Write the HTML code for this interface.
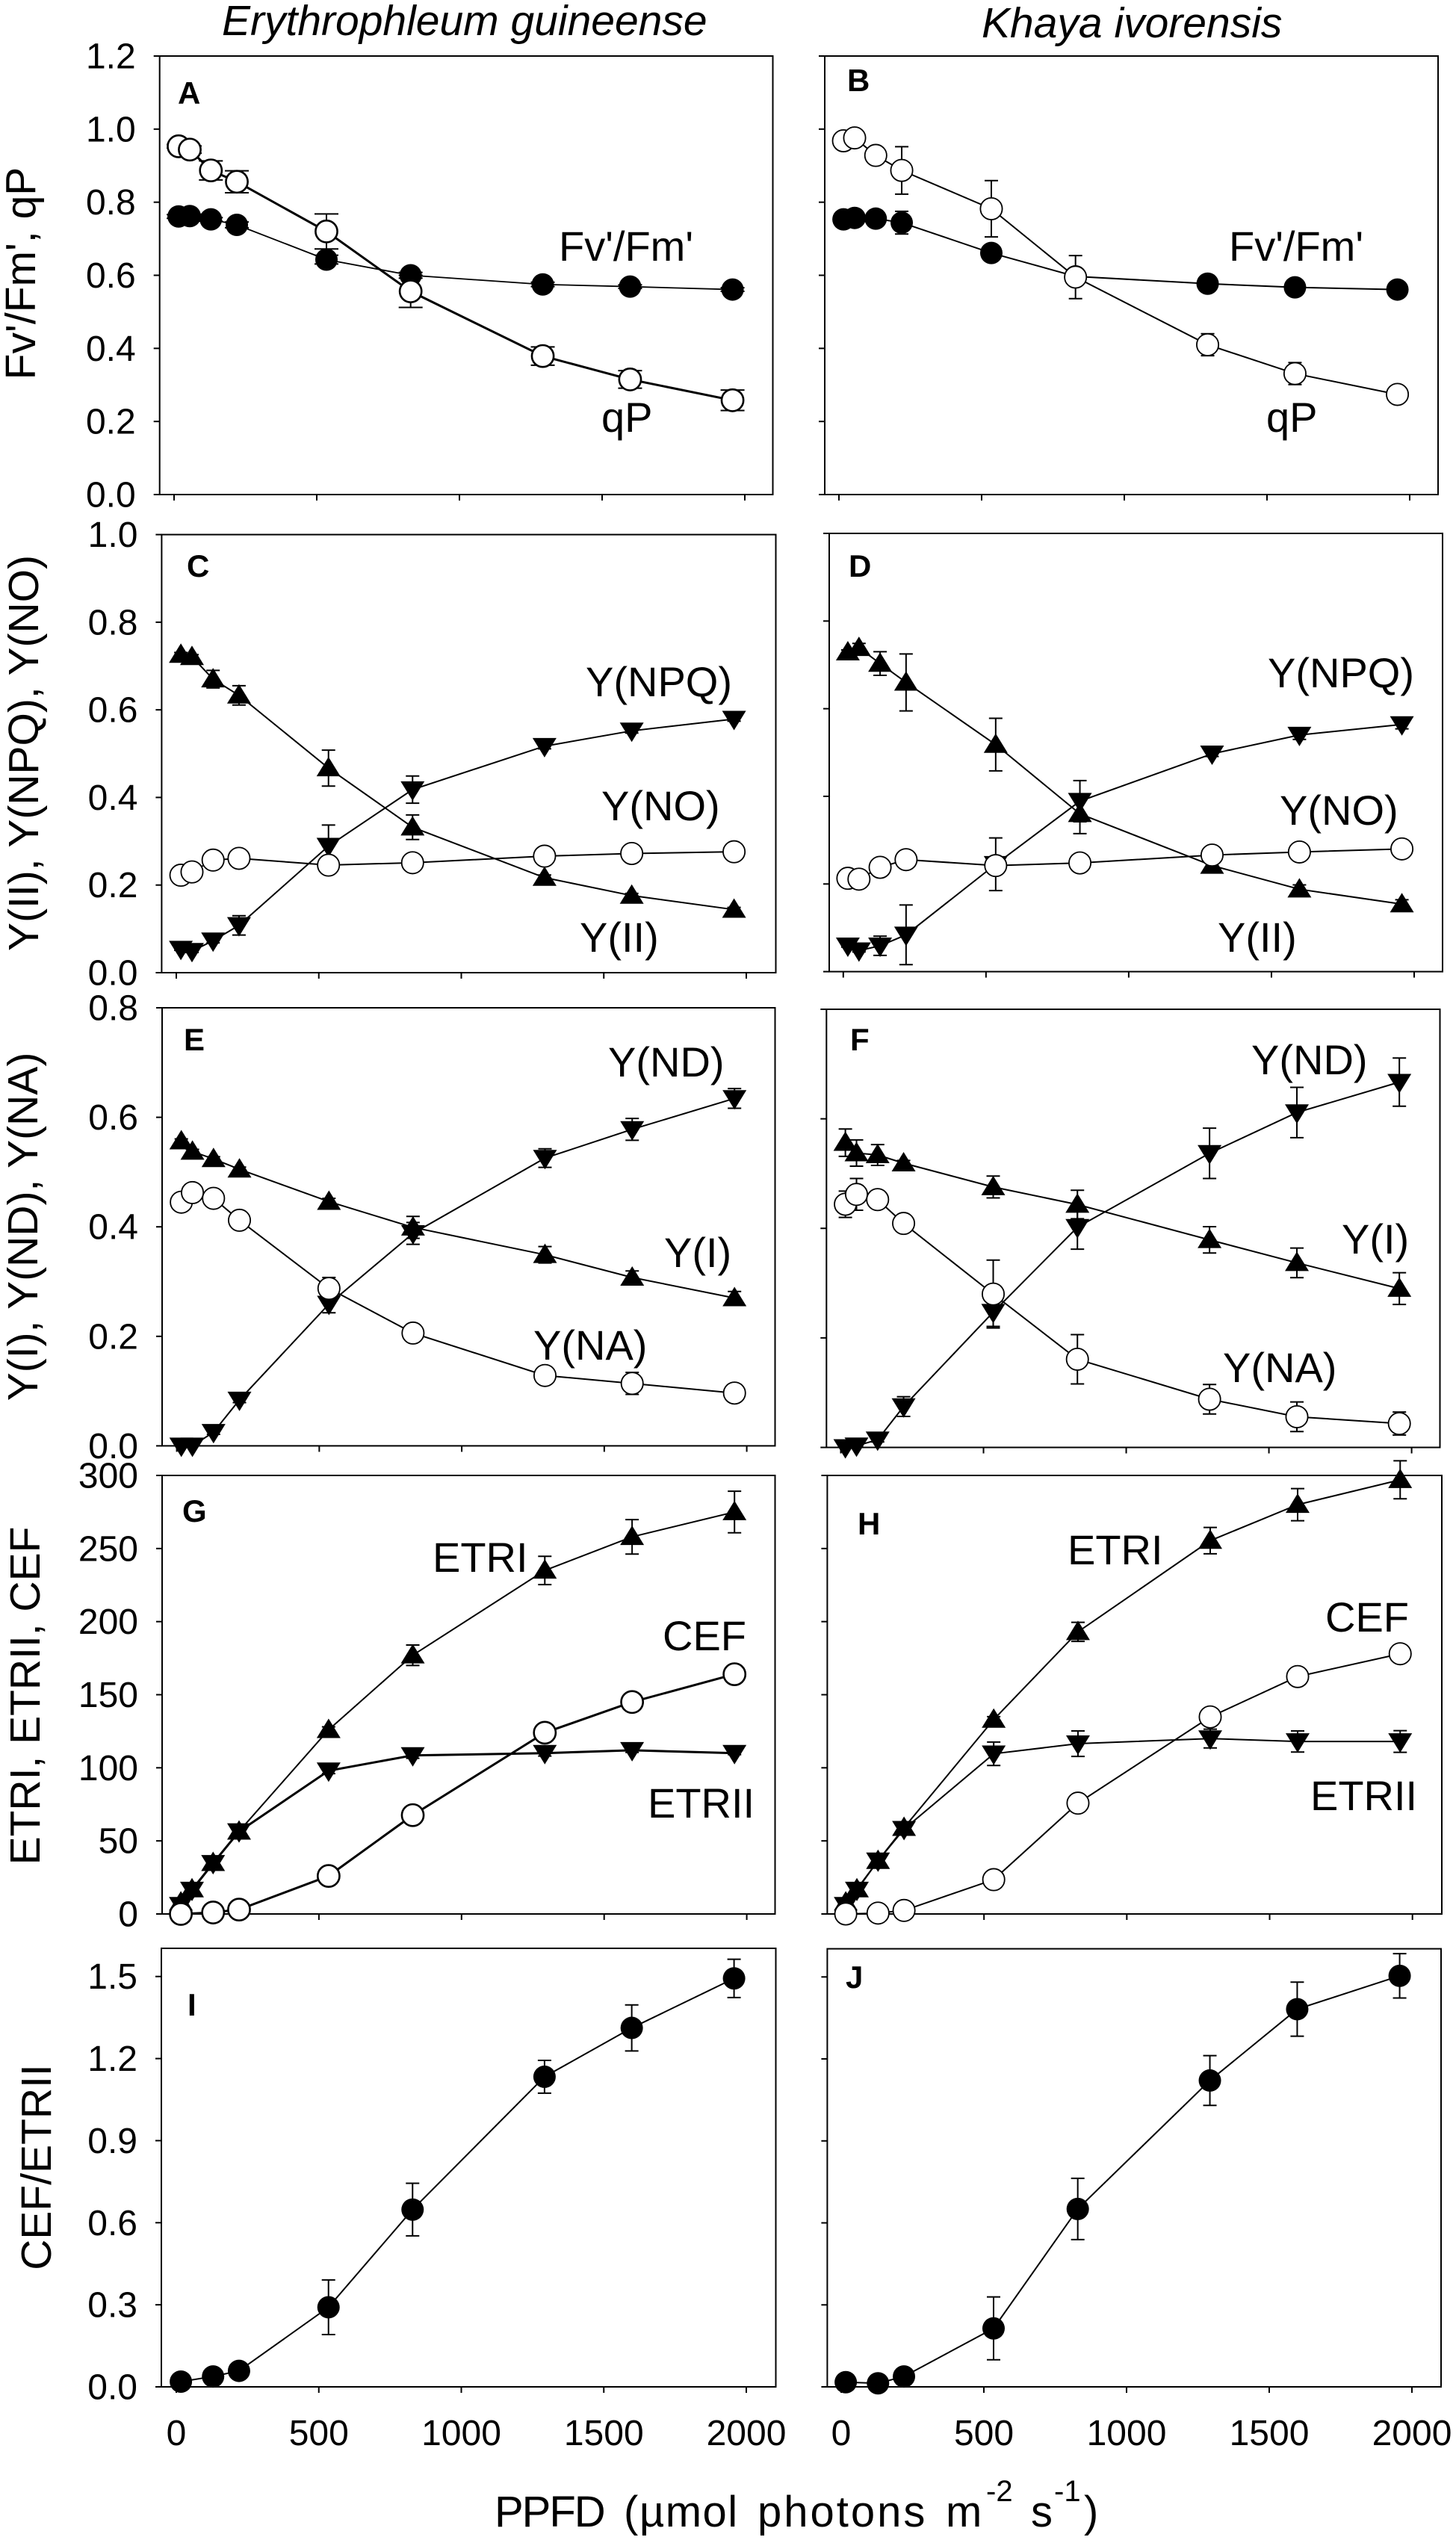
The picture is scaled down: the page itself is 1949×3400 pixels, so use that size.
<!DOCTYPE html>
<html lang="en">
<head>
<meta charset="utf-8">
<title>Chlorophyll fluorescence light-response curves</title>
<style>
html,body{margin:0;padding:0;background:#fff;}
svg{display:block;}
text{font-family:"Liberation Sans",Arial,sans-serif;fill:#000;}
.lab{font-size:56px;}
.let{font-size:42px;font-weight:bold;}
.ttl{font-size:57px;font-style:italic;}
.yt{font-size:57px;}
</style>
</head>
<body>
<svg id="chart" xmlns="http://www.w3.org/2000/svg" width="1949" height="3400" viewBox="0 0 1949 3400">
<rect x="0" y="0" width="1949" height="3400" fill="#fff"/>
<text class="ttl" x="297" y="47">Erythrophleum guineense</text>
<text class="ttl" x="1314" y="50">Khaya ivorensis</text>

<text class="yt" transform="translate(47,366) rotate(-90)" text-anchor="middle" xml:space="preserve">Fv'/Fm', qP</text>
<text class="yt" transform="translate(51,1008) rotate(-90)" text-anchor="middle">Y(II), Y(NPQ), Y(NO)</text>
<text class="yt" transform="translate(50,1642) rotate(-90)" text-anchor="middle">Y(I), Y(ND), Y(NA)</text>
<text class="yt" transform="translate(53,2270) rotate(-90)" text-anchor="middle">ETRI, ETRII, CEF</text>
<text class="yt" transform="translate(68,2901) rotate(-90)" text-anchor="middle">CEF/ETRII</text>

<text font-size="58" y="3382"><tspan x="662" letter-spacing="-2">PPFD</tspan><tspan x="835" letter-spacing="1.5">(µmol</tspan><tspan x="1014" letter-spacing="3">photons</tspan><tspan x="1266">m</tspan><tspan x="1320" y="3348" font-size="40">-2</tspan><tspan x="1380" y="3382">s</tspan><tspan x="1411" y="3348" font-size="40">-1</tspan><tspan x="1451" y="3382">)</tspan></text>

<g id="marks"></g>

<g>
<text class="let" x="238" y="139">A</text>
<text class="let" x="1134" y="122">B</text>
<text class="let" x="250" y="772">C</text>
<text class="let" x="1136" y="772">D</text>
<text class="let" x="246" y="1406">E</text>
<text class="let" x="1138" y="1406">F</text>
<text class="let" x="244" y="2037">G</text>
<text class="let" x="1148" y="2054">H</text>
<text class="let" x="251" y="2698">I</text>
<text class="let" x="1132" y="2661">J</text>
</g>

<g>
<text class="lab" x="748" y="349">Fv'/Fm'</text>
<text class="lab" x="805" y="578">qP</text>
<text class="lab" x="1645" y="349">Fv'/Fm'</text>
<text class="lab" x="1695" y="578">qP</text>
<text class="lab" x="784" y="932">Y(NPQ)</text>
<text class="lab" x="805" y="1098">Y(NO)</text>
<text class="lab" x="776" y="1274">Y(II)</text>
<text class="lab" x="1697" y="920">Y(NPQ)</text>
<text class="lab" x="1713" y="1104">Y(NO)</text>
<text class="lab" x="1630" y="1274">Y(II)</text>
<text class="lab" x="814" y="1441">Y(ND)</text>
<text class="lab" x="889" y="1696">Y(I)</text>
<text class="lab" x="714" y="1820">Y(NA)</text>
<text class="lab" x="1675" y="1438">Y(ND)</text>
<text class="lab" x="1796" y="1678">Y(I)</text>
<text class="lab" x="1637" y="1850">Y(NA)</text>
<text class="lab" x="579" y="2104">ETRI</text>
<text class="lab" x="887" y="2209">CEF</text>
<text class="lab" x="867" y="2433">ETRII</text>
<text class="lab" x="1429" y="2094">ETRI</text>
<text class="lab" x="1774" y="2184">CEF</text>
<text class="lab" x="1754" y="2423">ETRII</text>
</g>
</svg>

<script>
const ppfd = [16, 55, 129, 220, 534, 829, 1292, 1598, 1957];
const xTickValues = [0, 500, 1000, 1500, 2000];

const yTicksA = [0, 0.2, 0.4, 0.6, 0.8, 1.0, 1.2];
const yTicksC = [0, 0.2, 0.4, 0.6, 0.8, 1.0];
const yTicksE = [0, 0.2, 0.4, 0.6, 0.8];
const yTicksG = [0, 50, 100, 150, 200, 250, 300];
const yTicksI = [0, 0.3, 0.6, 0.9, 1.2, 1.5];

const aFv = [0.761, 0.762, 0.753, 0.738, 0.643, 0.600, 0.575, 0.569, 0.561];
const aFvErr = [0.005, 0.005, 0.005, 0.008, 0.012, 0.008, 0.006, 0.005, 0.005];
const aQp = [0.953, 0.944, 0.887, 0.856, 0.720, 0.556, 0.379, 0.315, 0.258];
const aQpErr = [0.005, 0.01, 0.026, 0.03, 0.048, 0.044, 0.025, 0.024, 0.028];

const bFv = [0.753, 0.757, 0.755, 0.744, 0.661, 0.597, 0.577, 0.567, 0.561];
const bFvErr = [0.005, 0.005, 0.005, 0.031, 0.012, 0.01, 0.006, 0.005, 0.005];
const bQp = [0.968, 0.976, 0.928, 0.887, 0.782, 0.595, 0.410, 0.331, 0.274];
const bQpErr = [0.005, 0.005, 0.005, 0.065, 0.077, 0.059, 0.03, 0.03, 0.005];

const cYii = [0.726, 0.721, 0.670, 0.633, 0.467, 0.332, 0.217, 0.176, 0.144];
const cYiiErr = [0.005, 0.005, 0.02, 0.022, 0.041, 0.028, 0.006, 0.005, 0.005];
const cYnpq = [0.054, 0.049, 0.073, 0.108, 0.289, 0.418, 0.517, 0.552, 0.579];
const cYnpqErr = [0.003, 0.003, 0.005, 0.022, 0.048, 0.031, 0.006, 0.005, 0.005];
const cYno = [0.2225, 0.230, 0.257, 0.261, 0.2455, 0.251, 0.266, 0.272, 0.276];
const cYnoErr = [0.003, 0.003, 0.003, 0.003, 0.003, 0.003, 0.003, 0.003, 0.003];

const dYii = [0.729, 0.739, 0.703, 0.660, 0.518, 0.360, 0.242, 0.188, 0.154];
const dYiiErr = [0.005, 0.01, 0.027, 0.065, 0.06, 0.045, 0.008, 0.01, 0.01];
const dYnpq = [0.059, 0.048, 0.059, 0.084, 0.245, 0.389, 0.497, 0.540, 0.564];
const dYnpqErr = [0.003, 0.003, 0.022, 0.068, 0.06, 0.047, 0.006, 0.01, 0.01];
const dYno = [0.213, 0.211, 0.238, 0.2555, 0.242, 0.248, 0.266, 0.273, 0.280];
const dYnoErr = [0.003, 0.003, 0.003, 0.003, 0.003, 0.003, 0.003, 0.003, 0.003];

const eYnd = [0, 0, 0.025, 0.084, 0.259, 0.388, 0.5255, 0.578, 0.6345];
const eYndErr = [0, 0, 0.004, 0.005, 0.016, 0.02, 0.017, 0.02, 0.018];
const eYi = [0.5565, 0.5375, 0.524, 0.505, 0.446, 0.399, 0.349, 0.3075, 0.270];
const eYiErr = [0.004, 0.004, 0.004, 0.004, 0.006, 0.02, 0.015, 0.012, 0.012];
const eYna = [0.445, 0.4625, 0.452, 0.412, 0.2875, 0.206, 0.1285, 0.114, 0.0964];
const eYnaErr = [0.004, 0.004, 0.004, 0.004, 0.02, 0.015, 0.006, 0.02, 0.004];

const fYnd = [0, 0.003, 0.014, 0.0746, 0.247, 0.402, 0.537, 0.6115, 0.667];
const fYndErr = [0, 0.002, 0.004, 0.018, 0.026, 0.04, 0.046, 0.046, 0.044];
const fYi = [0.5565, 0.5375, 0.534, 0.519, 0.4755, 0.4435, 0.379, 0.337, 0.290];
const fYiErr = [0.025, 0.024, 0.019, 0.005, 0.02, 0.026, 0.024, 0.027, 0.029];
const fYna = [0.444, 0.462, 0.4525, 0.409, 0.280, 0.161, 0.088, 0.056, 0.0436];
const fYnaErr = [0.024, 0.029, 0.005, 0.005, 0.062, 0.045, 0.027, 0.027, 0.021];

const gEtri = [8, 17, 35, 56.5, 126, 177, 235, 258, 275];
const gEtriErr = [0.5, 1, 1, 2, 2, 7, 9.7, 11.8, 14.2];
const gEtrii = [6, 16.4, 34.7, 56.4, 98, 108.5, 110, 112, 110];
const gEtriiErr = [0.5, 0.5, 1, 1, 2, 2, 2, 1.5, 1];
const gCef = [0, null, 1, 3, 26, 67.6, 124, 145, 164];
const gCefErr = [0.2, null, 0.2, 0.5, 1, 1, 1, 1, 1];

const hEtri = [8, 17, 36.4, 59, 133, 193, 255.4, 280, 297];
const hEtriErr = [0.5, 1, 1, 2, 2, 6.5, 9, 11, 13];
const hEtrii = [6, 16.4, 36.4, 58, 109.6, 116.5, 120, 118, 118];
const hEtriiErr = [0.5, 0.5, 1, 2, 8, 8.7, 6.4, 7.2, 7.4];
const hCef = [0, null, 0.6, 2.4, 23.5, 75.8, 134.8, 162.4, 178];
const hCefErr = [0.2, null, 0.2, 0.5, 1, 1, 1, 1, 1];

const iRatio = [0.019, null, 0.038, 0.0585, 0.291, 0.648, 1.1335, 1.312, 1.493];
const iRatioErr = [0.004, null, 0.004, 0.006, 0.1, 0.096, 0.06, 0.084, 0.07];
const jRatio = [0.017, null, 0.013, 0.038, 0.214, 0.651, 1.121, 1.382, 1.504];
const jRatioErr = [0.004, null, 0.004, 0.006, 0.115, 0.112, 0.091, 0.099, 0.081];

const panels = [
  {id:'a', frame:[213.7,1034.5,75,662], xr:[233,997], yMax:1.2, yTicks:yTicksA, dp:1, labels:true, xLabels:false, series:[
    {name:'fv-fm', v:aFv, e:aFvErr, m:'fc', w:1.8, cap:16, ring:1.8},
    {name:'qp', v:aQp, e:aQpErr, m:'oc', w:3, cap:16, ring:2.6}]},
  {id:'b', frame:[1104,1925,75,662], xr:[1123,1887], yMax:1.2, yTicks:yTicksA, dp:1, labels:false, xLabels:false, series:[
    {name:'fv-fm', v:bFv, e:bFvErr, m:'fc', w:2},
    {name:'qp', v:bQp, e:bQpErr, m:'oc', w:2}]},
  {id:'c', frame:[216.4,1038.5,715.6,1302], xr:[236,999], yMax:1.0, yTicks:yTicksC, dp:1, labels:true, xLabels:false, series:[
    {name:'yii', v:cYii, e:cYiiErr, m:'up', w:2},
    {name:'ynpq', v:cYnpq, e:cYnpqErr, m:'dn', w:2},
    {name:'yno', v:cYno, e:cYnoErr, m:'oc', w:2}]},
  {id:'d', frame:[1110,1931,714,1300.6], xr:[1128.8,1893], yMax:1.0, yTicks:yTicksC, dp:1, labels:false, xLabels:false, series:[
    {name:'yii', v:dYii, e:dYiiErr, m:'up', w:2},
    {name:'ynpq', v:dYnpq, e:dYnpqErr, m:'dn', w:2},
    {name:'yno', v:dYno, e:dYnoErr, m:'oc', w:2}]},
  {id:'e', frame:[217,1037.5,1349,1935.4], xr:[236.6,999.6], yMax:0.8, yTicks:yTicksE, dp:1, labels:true, xLabels:false, series:[
    {name:'ynd', v:eYnd, e:eYndErr, m:'dn', w:2},
    {name:'yi', v:eYi, e:eYiErr, m:'up', w:2},
    {name:'yna', v:eYna, e:eYnaErr, m:'oc', w:2}]},
  {id:'f', frame:[1106.3,1927.5,1351,1937.5], xr:[1125.5,1889.6], yMax:0.8, yTicks:yTicksE, dp:1, labels:false, xLabels:false, series:[
    {name:'ynd', v:fYnd, e:fYndErr, m:'dn', w:2},
    {name:'yi', v:fYi, e:fYiErr, m:'up', w:2},
    {name:'yna', v:fYna, e:fYnaErr, m:'oc', w:2}]},
  {id:'g', frame:[217,1037.5,1975,2562], xr:[236,999.6], yMax:300, yTicks:yTicksG, dp:0, labels:true, xLabels:false, series:[
    {name:'etri', v:gEtri, e:gEtriErr, m:'up', w:2},
    {name:'etrii', v:gEtrii, e:gEtriiErr, m:'dn', w:3},
    {name:'cef', v:gCef, e:gCefErr, m:'oc', w:3, ring:2.6}]},
  {id:'h', frame:[1107.4,1930,1975,2562], xr:[1126,1890.7], yMax:300, yTicks:yTicksG, dp:0, labels:false, xLabels:false, series:[
    {name:'etri', v:hEtri, e:hEtriErr, m:'up', w:2},
    {name:'etrii', v:hEtrii, e:hEtriiErr, m:'dn', w:2},
    {name:'cef', v:hCef, e:hCefErr, m:'oc', w:2}]},
  {id:'i', frame:[216,1038.5,2608,3195], xr:[236,999], yMax:1.603, yTicks:yTicksI, dp:1, labels:true, xLabels:true, series:[
    {name:'cef-etrii', v:iRatio, e:iRatioErr, m:'fc', w:2}]},
  {id:'j', frame:[1107.4,1929,2608.6,3195], xr:[1126,1890], yMax:1.603, yTicks:yTicksI, dp:1, labels:false, xLabels:true, series:[
    {name:'cef-etrii', v:jRatio, e:jRatioErr, m:'fc', w:2}]}
];

const NS = 'http://www.w3.org/2000/svg';
const root = document.getElementById('marks');

function mk(tag, attrs, parent) {
  const n = document.createElementNS(NS, tag);
  for (const k in attrs) n.setAttribute(k, attrs[k]);
  parent.appendChild(n);
  return n;
}

function drawMarker(kind, cx, cy, parent, ring) {
  if (kind === 'fc' || kind === 'oc') {
    return mk('circle', {cx: cx, cy: cy, r: kind === 'fc' ? 15 : 14.6, fill: kind === 'fc' ? '#000' : '#fff', stroke: '#000', 'stroke-width': kind === 'fc' ? 0 : (ring || 1.8)}, parent);
  }
  const s = kind === 'up' ? 1 : -1;
  const pts = [[cx, cy - 15 * s], [cx - 16, cy + 11 * s], [cx + 16, cy + 11 * s]].map(p => p.join(',')).join(' ');
  return mk('polygon', {points: pts, fill: '#000'}, parent);
}

panels.forEach(function (p) {
  const L = p.frame[0], R = p.frame[1], T = p.frame[2], B = p.frame[3];
  const xs = v => p.xr[0] + (p.xr[1] - p.xr[0]) * v / 2000;
  const ys = v => B - (B - T) * v / p.yMax;

  const g = mk('g', {}, root);
  
  

  const frame = mk('rect', {x: L, y: T, width: R - L, height: B - T, fill: 'none', stroke: '#000', 'stroke-width': 2}, g);
  
  

  p.yTicks.forEach(function (t) {
    const tick = mk('line', {x1: L - 8, x2: L, y1: ys(t), y2: ys(t), stroke: '#000', 'stroke-width': 2}, g);
    
    
    if (p.labels) {
      const lab = mk('text', {x: L - 32, y: ys(t) + 16.5, 'text-anchor': 'end', 'font-size': 48}, g);
      lab.textContent = t.toFixed(p.dp);
      
      
    }
  });

  xTickValues.forEach(function (t) {
    const tick = mk('line', {x1: xs(t), x2: xs(t), y1: B, y2: B + 8, stroke: '#000', 'stroke-width': 2}, g);
    
    
    if (p.xLabels) {
      const lab = mk('text', {x: xs(t), y: 3273, 'text-anchor': 'middle', 'font-size': 48}, g);
      lab.textContent = String(t);
      
      
    }
  });

  p.series.forEach(function (s) {
    const sg = mk('g', {}, g);
    
    

    const pts = [];
    ppfd.forEach(function (x, i) {
      if (s.v[i] !== null) pts.push(xs(x) + ',' + ys(s.v[i]));
    });
    const line = mk('polyline', {points: pts.join(' '), fill: 'none', stroke: '#000', 'stroke-width': s.w}, sg);
    
    

    const capHalf = s.cap || 9;
    ppfd.forEach(function (x, i) {
      if (s.v[i] === null || !s.e[i]) return;
      const cx = xs(x), hi = ys(s.v[i] + s.e[i]), lo = ys(s.v[i] - s.e[i]);
      const d = 'M' + cx + ' ' + hi + 'V' + lo + 'M' + (cx - capHalf) + ' ' + hi + 'H' + (cx + capHalf) + 'M' + (cx - capHalf) + ' ' + lo + 'H' + (cx + capHalf);
      const bar = mk('path', {d: d, fill: 'none', stroke: '#000', 'stroke-width': 2}, sg);
      
      
    });

    ppfd.forEach(function (x, i) {
      if (s.v[i] === null) return;
      const mark = drawMarker(s.m, xs(x), ys(s.v[i]), sg, s.ring);
      
      
    });
  });
});
</script>
</body>
</html>
